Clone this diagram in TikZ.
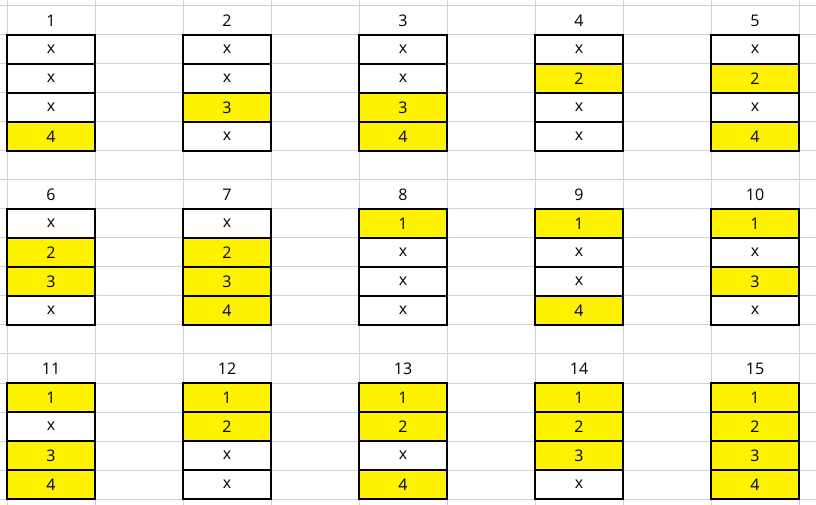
\documentclass[tikz,border=0pt]{standalone}
\usepackage{fontspec}
\setmainfont{Open Sans}
\begin{document}
\begin{tikzpicture}[x=0.75pt,y=-0.75pt,
  gridline/.style={draw=gray!35,line width=0.75pt},
  cellbox/.style={draw=black,line width=0.9pt,minimum width=66pt,minimum height=21.75pt,inner sep=0pt,font=\fontsize{12}{14}\selectfont,anchor=center},
  oncell/.style={cellbox,fill=yellow},
  offcell/.style={cellbox,fill=white},
  headtext/.style={inner sep=0pt,font=\fontsize{12}{14}\selectfont,anchor=center}]
\useasboundingbox (0,0) rectangle (816,505);
\fill[white] (0,0) rectangle (816,505);
\foreach \i in {0,...,9} \draw[gridline] (7+88*\i,0) -- (7+88*\i,505);
\foreach \j in {0,...,17} \draw[gridline] (0,6+29*\j) -- (816,6+29*\j);
\foreach \n in {1,...,15}{
  \pgfmathtruncatemacro\g{floor((\n-1)/5)}
  \pgfmathtruncatemacro\k{mod(\n-1,5)}
  \pgfmathsetmacro\cx{51+176*\k}
  \pgfmathsetmacro\cy{21+174*\g}
  \node[headtext] (h\n) at (\cx,\cy) {\n};
  \foreach \r in {1,...,4}{
    \pgfmathtruncatemacro\b{mod(floor(\n/(2^(4-\r))),2)}
    \ifnum\b=1
      \node[oncell] (c\n-\r) at (\cx,\cy-0.5+29*\r) {\r};
    \else
      \node[offcell] (c\n-\r) at (\cx,\cy-0.5+29*\r) {x};
    \fi
  }
}
\end{tikzpicture}
\end{document}
